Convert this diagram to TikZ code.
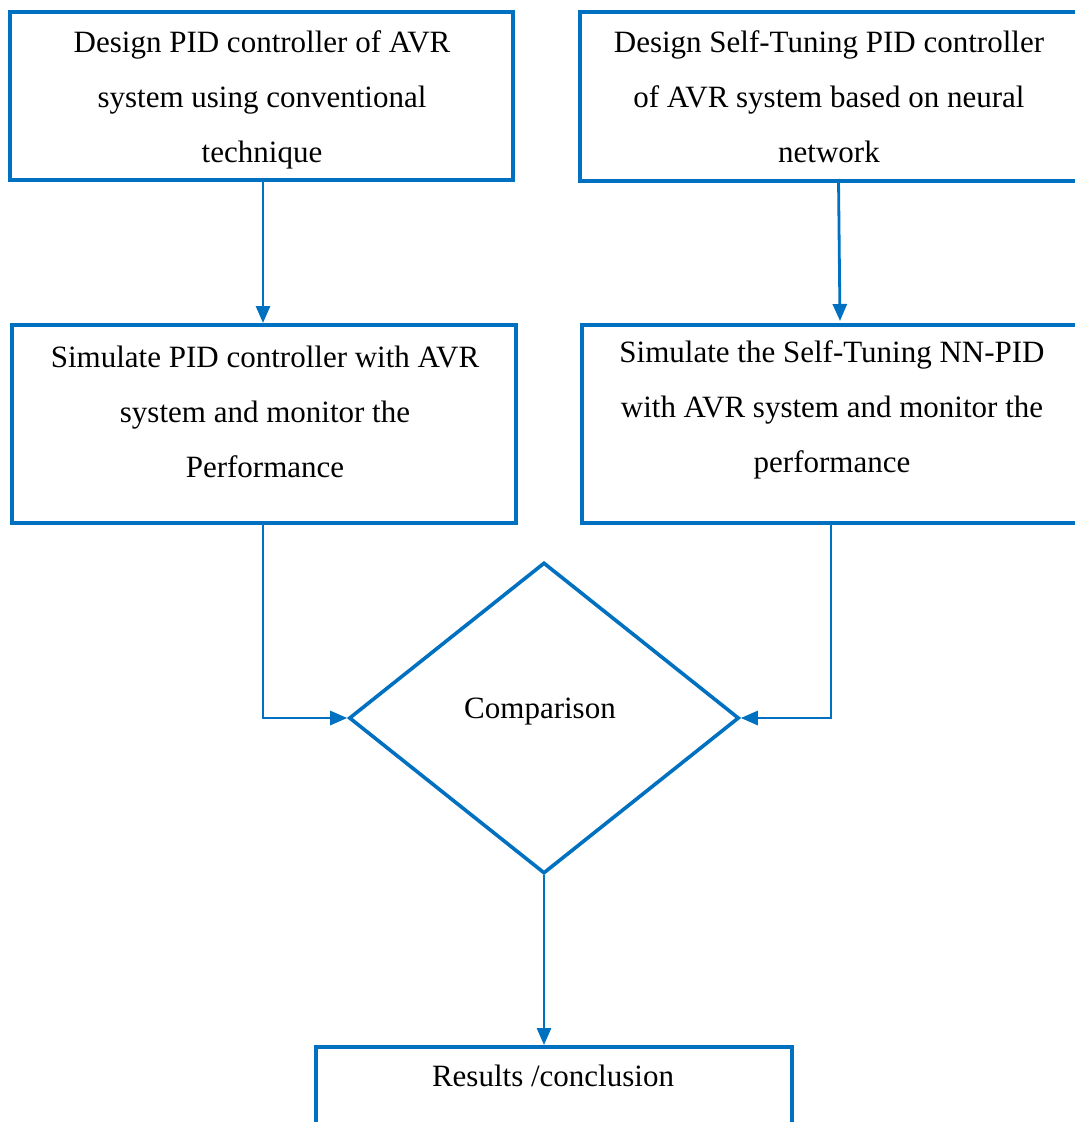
\documentclass[tikz,border=0pt]{standalone}
\usepackage{fontspec}
\setmainfont{Liberation Serif}
\usetikzlibrary{arrows.meta,shapes.geometric}
\definecolor{flowblue}{HTML}{0070C0}
\begin{document}
\begin{tikzpicture}[x=1pt,y=-1pt,
  box/.style={draw=flowblue,line width=3.6pt,rectangle,inner sep=0pt},
  lbl/.style={font=\fontsize{31}{55}\selectfont,align=center},
  conn/.style={draw=flowblue,line width=2.8pt,-{Triangle[length=17pt,width=14pt]}}]
\useasboundingbox (0,0) rectangle (1075,1122);
\clip (0,0) rectangle (1075,1122);
\node[box,minimum width=503pt,minimum height=168pt] (b1) at (261.5,96) {};
\node[lbl] (t1) at (262,100)
  {Design PID controller of AVR\\system using conventional\\technique};
\node[box,minimum width=520pt,minimum height=169pt,anchor=north west] (b2) at (578,10) {};
\node[lbl] (t2) at (829,97)
  {Design Self-Tuning PID controller\\of AVR system based on neural\\network};
\node[box,minimum width=504pt,minimum height=198pt] (b3) at (264,424) {};
\node[lbl] (t3) at (265,412)
  {Simulate PID controller with AVR\\system and monitor the\\Performance};
\node[box,minimum width=520pt,minimum height=198pt,anchor=north west] (b4) at (580,323) {};
\node[lbl] (t4) at (832,410)
  {Simulate the Self-Tuning NN-PID\\with AVR system and monitor the\\performance};
\node[box,diamond,minimum width=390pt,minimum height=311pt] (d) at (544,718) {};
\node[lbl] (td) at (540,712) {Comparison};
\node[box,minimum width=476pt,minimum height=120pt,anchor=north] (b5) at (554,1045) {};
\node[lbl] (t5) at (553,1076) {Results /conclusion};
\draw[conn] (263,180) -- (263,323);
\draw[conn] (838.5,179) -- (840,321);
\draw[conn] (b3.south -| 263,0) -- (263,718) -- (d.west);
\draw[conn] (b4.south -| 831,0) -- (831,718) -- (d.east);
\draw[conn] (d.south) -- (d.south |- b5.north);
\end{tikzpicture}
\end{document}
